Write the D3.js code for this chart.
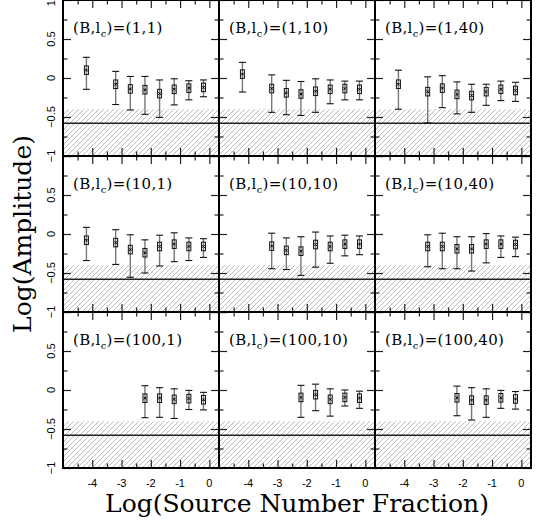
<!DOCTYPE html>
<html>
<head>
<meta charset="utf-8">
<script src="https://cdn.jsdelivr.net/npm/d3@7"></script>
<style>
  html, body { margin: 0; padding: 0; background: #fff; }
  svg { display: block; }
</style>
</head>
<body>
<div id="chart"></div>
<script>
// Grid parameters: rows by B, columns by l_c
const bValues = [1, 10, 100];
const lcValues = [1, 10, 40];

// Axis ticks
const xTickValues = [-4, -3, -2, -1, 0];
const xMinorValues = [-4.5, -3.5, -2.5, -1.5, -0.5];
const yTickValues = [-1, -0.5, 0, 0.5, 1];
const yMinorValues = [-0.75, -0.25, 0.25, 0.75];
const xTickLabels = ["-4", "-3", "-2", "-1", "0"];
const yTickLabels = ["\u22121", "\u22120.5", "0", "0.5", "1"];

// Log(source number fraction) sample positions
const fracEight = [-4.2, -3.2, -2.7, -2.2, -1.7, -1.2, -0.7, -0.2];
const fracSeven = [-3.2, -2.7, -2.2, -1.7, -1.2, -0.7, -0.2];
const fracFive = [-2.2, -1.7, -1.2, -0.7, -0.2];

// Shaded exclusion band and reference level
const bandTop = -0.4;
const bandBottom = -1;
const refLevel = -0.58;
const boxHalf = 0.055;

// (B, l_c) = (1, 1)
const amp_1_1 = [0.10, -0.08, -0.14, -0.15, -0.20, -0.145, -0.13, -0.12];
const hi_1_1 = [0.265, 0.085, 0.02, 0.02, -0.025, -0.01, -0.035, -0.025];
const lo_1_1 = [-0.145, -0.34, -0.41, -0.465, -0.505, -0.345, -0.28, -0.24];
// (1, 10)
const amp_1_10 = [0.05, -0.135, -0.19, -0.205, -0.17, -0.145, -0.135, -0.145];
const hi_1_10 = [0.20, 0.04, -0.03, -0.045, -0.01, -0.025, -0.04, -0.04];
const lo_1_10 = [-0.18, -0.44, -0.47, -0.48, -0.44, -0.33, -0.28, -0.28];
// (1, 40)
const amp_1_40 = [-0.08, -0.175, -0.13, -0.21, -0.225, -0.175, -0.145, -0.16];
const hi_1_40 = [0.10, 0.015, 0.03, -0.05, -0.08, -0.08, -0.04, -0.055];
const lo_1_40 = [-0.40, -0.575, -0.38, -0.46, -0.44, -0.35, -0.29, -0.30];
// (10, 1)
const amp_10_1 = [-0.08, -0.11, -0.20, -0.24, -0.16, -0.13, -0.16, -0.16];
const hi_10_1 = [0.085, 0.055, -0.01, -0.075, -0.015, 0.015, -0.05, -0.06];
const lo_10_1 = [-0.34, -0.39, -0.555, -0.50, -0.41, -0.355, -0.34, -0.30];
// (10, 10)
const amp_10_10 = [-0.155, -0.21, -0.22, -0.135, -0.16, -0.13, -0.13];
const hi_10_10 = [0.01, -0.05, -0.035, 0.025, -0.025, -0.015, -0.025];
const lo_10_10 = [-0.445, -0.455, -0.53, -0.425, -0.375, -0.28, -0.265];
// (10, 40)
const amp_10_40 = [-0.16, -0.16, -0.19, -0.19, -0.13, -0.13, -0.135];
const hi_10_40 = [-0.01, 0.01, -0.035, -0.035, 0.005, -0.025, -0.04];
const lo_10_40 = [-0.42, -0.445, -0.445, -0.475, -0.37, -0.30, -0.29];
// (100, 1)
const amp_100_1 = [-0.105, -0.105, -0.12, -0.11, -0.125];
const hi_100_1 = [0.055, 0.03, 0.015, -0.005, -0.03];
const lo_100_1 = [-0.355, -0.35, -0.365, -0.25, -0.255];
// (100, 10)
const amp_100_10 = [-0.095, -0.06, -0.12, -0.095, -0.105];
const hi_100_10 = [0.06, 0.075, 0.015, 0.0, -0.015];
const lo_100_10 = [-0.35, -0.265, -0.335, -0.205, -0.235];
// (100, 40)
const amp_100_40 = [-0.10, -0.13, -0.13, -0.10, -0.115];
const hi_100_40 = [0.05, 0.03, 0.015, -0.005, -0.02];
const lo_100_40 = [-0.33, -0.385, -0.35, -0.235, -0.245];

const panels = [
  { x: fracEight, y: amp_1_1, hi: hi_1_1, lo: lo_1_1 },
  { x: fracEight, y: amp_1_10, hi: hi_1_10, lo: lo_1_10 },
  { x: fracEight, y: amp_1_40, hi: hi_1_40, lo: lo_1_40 },
  { x: fracEight, y: amp_10_1, hi: hi_10_1, lo: lo_10_1 },
  { x: fracSeven, y: amp_10_10, hi: hi_10_10, lo: lo_10_10 },
  { x: fracSeven, y: amp_10_40, hi: hi_10_40, lo: lo_10_40 },
  { x: fracFive, y: amp_100_1, hi: hi_100_1, lo: lo_100_1 },
  { x: fracFive, y: amp_100_10, hi: hi_100_10, lo: lo_100_10 },
  { x: fracFive, y: amp_100_40, hi: hi_100_40, lo: lo_100_40 }
];

const W = 540, H = 527;
const gridLeft = 63, gridTop = 0, pw = 156, ph = 156;

const svg = d3.select("#chart").append("svg")
  .attr("width", W).attr("height", H)
  .attr("viewBox", `0 0 ${W} ${H}`);

// Diagonal hatch for the excluded amplitude range
const defs = svg.append("defs");
const pat = defs.append("pattern")
  .attr("id", "hatch")
  .attr("patternUnits", "userSpaceOnUse")
  .attr("width", 5).attr("height", 5);
pat.append("path")
  .attr("d", "M-1,1 L1,-1 M0,5 L5,0 M4,6 L6,4")
  .attr("stroke", "#aaa")
  .attr("stroke-width", 0.8);

const x = d3.scaleLinear().domain([-5, 0.33]).range([0, pw]);
const y = d3.scaleLinear().domain([-1, 1]).range([ph, 0]);

const tickColor = "#222";

function styleAxis(g) {
  g.select(".domain").remove();
  g.selectAll(".tick line").attr("stroke", tickColor).attr("stroke-width", 1.2);
  g.selectAll(".tick text").remove();
}

panels.forEach((p, i) => {
  const r = Math.floor(i / 3), c = i % 3;
  const g = svg.append("g")
    .attr("transform", `translate(${gridLeft + c * pw},${gridTop + r * ph})`);

  // hatched band
  g.append("rect")
    .attr("x", 0).attr("width", pw)
    .attr("y", y(bandTop)).attr("height", y(bandBottom) - y(bandTop))
    .attr("fill", "url(#hatch)");

  // reference level
  g.append("line")
    .attr("x1", 0).attr("x2", pw)
    .attr("y1", y(refLevel)).attr("y2", y(refLevel))
    .attr("stroke", "#222").attr("stroke-width", 1.3);

  // ticks on all four sides, pointing inward
  [[xTickValues, 8], [xMinorValues, 4.5]].forEach(([vals, len]) => {
    g.append("g").attr("transform", `translate(0,${ph})`)
      .call(d3.axisBottom(x).tickValues(vals).tickSizeInner(-len).tickSizeOuter(0))
      .call(styleAxis);
    g.append("g")
      .call(d3.axisTop(x).tickValues(vals).tickSizeInner(-len).tickSizeOuter(0))
      .call(styleAxis);
  });
  [[yTickValues, 8], [yMinorValues, 4.5]].forEach(([vals, len]) => {
    g.append("g")
      .call(d3.axisLeft(y).tickValues(vals).tickSizeInner(-len).tickSizeOuter(0))
      .call(styleAxis);
    g.append("g").attr("transform", `translate(${pw},0)`)
      .call(d3.axisRight(y).tickValues(vals).tickSizeInner(-len).tickSizeOuter(0))
      .call(styleAxis);
  });

  // error bars with inner box and center mark
  const pts = p.x.map((xv, k) => ({ x: xv, y: p.y[k], hi: p.hi[k], lo: p.lo[k] }));
  const eb = g.selectAll("g.eb").data(pts).enter().append("g").attr("class", "eb");
  eb.append("line")
    .attr("x1", d => x(d.x)).attr("x2", d => x(d.x))
    .attr("y1", d => y(d.hi)).attr("y2", d => y(d.lo))
    .attr("stroke", "#777").attr("stroke-width", 1.4);
  eb.append("line")
    .attr("x1", d => x(d.x) - 3.5).attr("x2", d => x(d.x) + 3.5)
    .attr("y1", d => y(d.hi)).attr("y2", d => y(d.hi))
    .attr("stroke", "#111").attr("stroke-width", 1.1);
  eb.append("line")
    .attr("x1", d => x(d.x) - 3.5).attr("x2", d => x(d.x) + 3.5)
    .attr("y1", d => y(d.lo)).attr("y2", d => y(d.lo))
    .attr("stroke", "#111").attr("stroke-width", 1.1);
  eb.append("rect")
    .attr("x", d => x(d.x) - 2).attr("width", 4)
    .attr("y", d => y(Math.min(d.hi, d.y + boxHalf)))
    .attr("height", d => y(Math.max(d.lo, d.y - boxHalf)) - y(Math.min(d.hi, d.y + boxHalf)))
    .attr("fill", "none").attr("stroke", "#111").attr("stroke-width", 1);
  eb.append("path")
    .attr("d", d => `M${x(d.x) - 1.3},${y(d.y) - 1.3}L${x(d.x) + 1.3},${y(d.y) + 1.3}M${x(d.x) - 1.3},${y(d.y) + 1.3}L${x(d.x) + 1.3},${y(d.y) - 1.3}`)
    .attr("stroke", "#000").attr("stroke-width", 1);

  // panel frame
  g.append("rect")
    .attr("x", 0).attr("y", 0).attr("width", pw).attr("height", ph)
    .attr("fill", "none").attr("stroke", "#000").attr("stroke-width", 2);

  // panel label
  const lab = g.append("text")
    .attr("x", 10).attr("y", 33)
    .attr("font-family", "'DejaVu Serif', serif")
    .attr("font-size", 15)
    .attr("letter-spacing", 0.3)
    .attr("fill", "#000");
  lab.append("tspan").text("(B,l");
  lab.append("tspan").attr("dy", 4).attr("font-size", 10).text("c");
  lab.append("tspan").attr("dy", -4).text(`)=(${bValues[r]},${lcValues[c]})`);

  // x tick labels on the bottom row
  if (r === 2) {
    g.selectAll("text.xl").data(xTickValues).enter().append("text")
      .attr("class", "xl")
      .attr("x", d => x(d)).attr("y", ph + 19)
      .attr("text-anchor", "middle")
      .attr("font-family", "'Liberation Sans', Arial, sans-serif")
      .attr("font-size", 11)
      .text((d, k) => xTickLabels[k]);
  }
  // y tick labels on the left column (the top value sits just inside the edge)
  if (c === 0) {
    const vals = yTickValues.map((v, k) => ({ v, t: yTickLabels[k] }))
      .filter(d => r === 0 || d.v < 1);
    g.selectAll("text.yl").data(vals).enter().append("text")
      .attr("class", "yl")
      .attr("transform", d => `translate(-8,${y(d.v)}) rotate(-90)`)
      .attr("text-anchor", d => (d.v === 1 ? "end" : "middle"))
      .attr("font-family", "'Liberation Sans', Arial, sans-serif")
      .attr("font-size", 11)
      .text(d => d.t);
  }
});

// axis titles
svg.append("text")
  .attr("x", gridLeft + 1.5 * pw).attr("y", 512)
  .attr("text-anchor", "middle")
  .attr("font-family", "'DejaVu Serif', serif")
  .attr("font-size", 25)
  .text("Log(Source Number Fraction)");

svg.append("text")
  .attr("transform", `translate(31,${gridTop + 1.5 * ph}) rotate(-90)`)
  .attr("text-anchor", "middle")
  .attr("font-family", "'DejaVu Serif', serif")
  .attr("font-size", 25)
  .text("Log(Amplitude)");
</script>
</body>
</html>
